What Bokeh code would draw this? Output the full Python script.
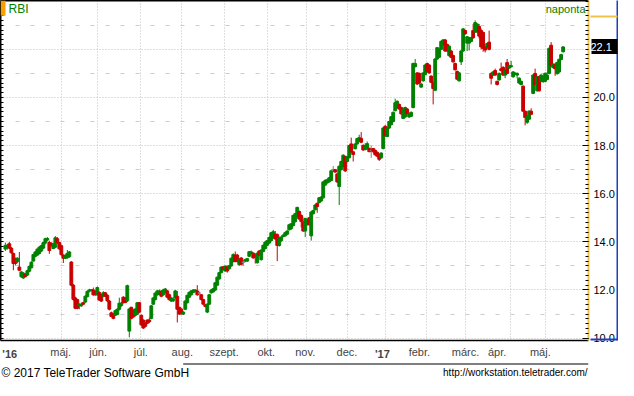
import numpy as np
from bokeh.plotting import figure
from bokeh.layouts import column
from bokeh.models import (Range1d, FixedTicker, LinearAxis, Grid, Label,
                          BoxAnnotation, ColumnDataSource, CustomJSTickFormatter,
                          PrintfTickFormatter)
from bokeh.core.properties import value
from bokeh.embed import file_html
from bokeh.resources import INLINE

# ---------------- data (daily OHLC, RBI) ----------------
opens = [
    13.70, 13.75, 13.92, 13.74, 13.52, 13.30, 13.18, 12.95, 12.55, 12.50,
    12.66, 12.62, 12.78, 12.92, 13.20, 13.40, 13.45, 13.52, 13.62, 13.74,
    13.95, 14.08, 13.97, 13.94, 13.72, 13.78, 14.13, 13.97, 13.84, 13.45,
    13.32, 13.34, 13.38, 13.16, 12.20, 11.67, 11.60, 11.34, 11.34, 11.47,
    11.50, 11.72, 11.95, 11.98, 12.00, 11.94, 11.80, 11.90, 11.80, 11.74,
    11.88, 11.78, 11.54, 11.05, 11.00, 10.95, 10.98, 11.20, 11.35, 11.70,
    11.67, 11.55, 10.29, 11.28, 11.14, 10.95, 11.00, 11.47, 10.95, 10.75,
    10.62, 10.75, 10.75, 10.82, 11.41, 11.60, 11.80, 11.82, 11.93, 11.80,
    11.90, 11.96, 11.80, 11.54, 11.55, 11.67, 11.74, 11.28, 11.21, 11.00,
    11.20, 11.47, 11.70, 11.80, 11.90, 11.96, 11.96, 11.87, 11.80, 11.60,
    11.38, 11.08, 11.41, 11.88, 11.92, 12.00, 12.20, 12.46, 12.72, 12.96,
    12.79, 12.96, 12.88, 13.00, 13.18, 13.45, 13.45, 13.05, 13.33, 13.15,
    13.20, 13.20, 13.40, 13.52, 13.53, 13.45, 13.13, 13.62, 13.26, 13.60,
    13.72, 13.86, 13.95, 14.05, 14.18, 14.32, 14.30, 13.85, 14.05, 14.22,
    14.25, 14.32, 14.50, 14.55, 14.68, 14.84, 15.04, 15.26, 15.10, 14.82,
    14.45, 14.71, 15.00, 14.25, 15.17, 15.34, 15.60, 15.63, 15.70, 15.83,
    16.36, 16.45, 16.50, 16.55, 16.99, 17.00, 16.82, 16.30, 17.00, 17.14,
    17.54, 17.34, 17.50, 18.07, 17.74, 17.87, 18.07, 18.20, 18.30, 18.01,
    17.84, 17.88, 17.88, 17.80, 17.88, 17.80, 17.72, 17.62, 17.49, 17.88,
    18.80, 18.38, 18.73, 18.87, 19.00, 19.45, 19.58, 19.71, 19.58, 19.13,
    19.19, 19.52, 19.19, 19.22, 19.58, 21.28, 21.02, 21.00, 20.43, 20.69,
    20.95, 21.41, 21.35, 20.89, 20.63, 20.30, 21.60, 21.67, 22.00, 22.20,
    22.39, 22.20, 21.74, 21.93, 21.74, 21.41, 21.08, 20.69, 21.48, 21.93,
    22.78, 22.26, 22.26, 22.33, 22.78, 22.72, 22.72, 22.95, 22.78, 22.70,
    22.10, 22.10, 22.30, 21.00, 20.93, 21.12, 20.67, 20.73, 21.19, 21.25,
    20.93, 21.45, 21.22, 21.28, 20.86, 20.96, 20.93, 20.60, 20.54, 20.47,
    19.43, 18.97, 19.10, 19.43, 20.17, 21.00, 20.28, 20.86, 20.67, 20.67,
    20.67, 20.75, 21.00, 22.17, 21.25, 21.38, 20.99, 21.06, 21.58, 21.90,
]
highs = [
    13.97, 13.92, 14.00, 13.78, 13.55, 13.35, 13.36, 13.58, 12.78, 12.74,
    12.70, 12.84, 13.02, 13.20, 13.50, 13.62, 13.72, 13.82, 13.88, 14.00,
    14.17, 14.20, 14.05, 13.98, 13.94, 14.24, 14.20, 14.00, 13.88, 13.48,
    13.48, 13.66, 13.62, 13.20, 12.25, 11.72, 11.62, 11.45, 11.48, 11.50,
    11.78, 11.98, 12.05, 12.04, 12.10, 11.98, 12.14, 11.94, 11.84, 11.95,
    11.92, 11.82, 11.58, 11.10, 11.04, 11.18, 11.24, 11.68, 11.50, 11.74,
    11.70, 12.22, 11.24, 11.30, 11.20, 11.24, 11.50, 11.50, 10.98, 10.78,
    10.66, 10.78, 10.85, 11.38, 11.70, 11.90, 12.00, 12.02, 12.00, 12.05,
    12.08, 12.00, 11.84, 11.70, 11.68, 12.00, 11.96, 11.30, 11.24, 11.12,
    11.57, 11.80, 11.93, 11.99, 12.03, 12.03, 12.20, 11.93, 11.83, 11.63,
    11.42, 11.44, 11.83, 12.02, 12.08, 12.32, 12.56, 12.75, 12.98, 13.00,
    13.02, 13.00, 13.04, 13.35, 13.52, 13.60, 13.50, 13.30, 13.36, 13.25,
    13.30, 13.33, 13.62, 13.64, 13.56, 13.50, 13.56, 13.66, 13.69, 13.89,
    14.02, 14.08, 14.22, 14.41, 14.50, 14.45, 14.35, 14.22, 14.23, 14.32,
    14.42, 14.48, 14.75, 14.78, 15.13, 15.20, 15.46, 15.30, 15.14, 14.86,
    15.00, 14.95, 15.04, 15.28, 15.34, 15.56, 15.64, 15.86, 15.90, 16.52,
    16.60, 16.62, 16.70, 16.98, 17.15, 17.03, 16.86, 17.18, 17.38, 17.64,
    17.58, 17.58, 18.03, 18.33, 17.76, 18.10, 18.32, 18.45, 18.56, 18.05,
    18.10, 18.17, 17.92, 18.01, 17.90, 17.84, 17.76, 17.66, 17.72, 18.77,
    18.86, 18.77, 19.03, 19.23, 19.42, 19.95, 19.88, 19.75, 19.62, 19.56,
    19.62, 19.56, 19.36, 19.42, 21.45, 21.60, 21.06, 21.04, 20.60, 21.05,
    21.38, 21.45, 21.38, 20.92, 20.66, 21.64, 22.10, 22.04, 22.37, 22.43,
    22.43, 22.24, 22.17, 21.97, 21.78, 21.45, 21.12, 21.06, 21.97, 22.89,
    22.82, 22.56, 22.52, 22.52, 23.05, 23.20, 23.09, 23.05, 22.86, 22.74,
    22.14, 22.28, 22.78, 21.04, 21.10, 21.20, 20.70, 21.04, 21.45, 21.30,
    21.16, 21.60, 21.36, 21.52, 21.10, 21.06, 21.04, 20.84, 20.70, 20.50,
    19.46, 19.27, 19.47, 19.55, 20.97, 21.20, 20.90, 20.90, 20.97, 20.90,
    21.04, 21.06, 22.08, 22.30, 21.42, 21.42, 21.49, 21.62, 21.82, 22.14,
]
lows = [
    13.62, 13.68, 13.70, 13.50, 12.82, 13.02, 13.12, 12.78, 12.50, 12.46,
    12.52, 12.58, 12.74, 12.90, 13.18, 13.36, 13.42, 13.48, 13.58, 13.70,
    13.90, 14.02, 13.50, 13.80, 13.70, 13.74, 13.92, 13.66, 13.42, 13.12,
    13.28, 13.30, 13.34, 12.15, 11.55, 11.20, 11.20, 11.20, 11.30, 11.38,
    11.46, 11.70, 11.90, 11.95, 11.76, 11.76, 11.76, 11.55, 11.50, 11.70,
    11.70, 11.50, 11.15, 10.88, 10.78, 10.92, 10.95, 11.15, 11.30, 11.44,
    11.45, 11.50, 10.03, 10.78, 10.85, 10.90, 10.96, 11.04, 10.50, 10.38,
    10.44, 10.58, 10.62, 10.78, 11.38, 11.56, 11.76, 11.80, 11.70, 11.76,
    11.86, 11.66, 11.56, 11.50, 11.50, 11.64, 10.65, 10.96, 10.98, 10.96,
    11.16, 11.44, 11.66, 11.77, 11.87, 11.93, 11.76, 11.80, 11.57, 11.38,
    11.28, 11.04, 11.38, 11.85, 11.90, 11.96, 12.18, 12.43, 12.70, 12.82,
    12.76, 12.72, 12.85, 12.97, 13.15, 13.15, 13.15, 13.00, 13.03, 13.00,
    13.15, 13.17, 13.37, 13.48, 13.30, 13.10, 13.10, 13.42, 13.22, 13.57,
    13.69, 13.83, 13.92, 14.02, 14.15, 14.10, 13.20, 13.80, 14.00, 14.19,
    14.22, 14.28, 14.47, 14.50, 14.64, 14.80, 15.00, 14.92, 14.60, 14.42,
    14.20, 14.68, 14.68, 14.05, 15.14, 15.30, 15.21, 15.60, 15.66, 15.80,
    16.33, 16.42, 16.46, 16.52, 16.90, 16.87, 16.45, 15.53, 16.97, 17.10,
    16.90, 17.30, 17.46, 17.70, 17.34, 17.84, 18.04, 18.17, 18.10, 17.78,
    17.80, 17.84, 17.72, 17.49, 17.70, 17.58, 17.52, 17.36, 17.46, 17.84,
    18.37, 18.35, 18.70, 18.84, 18.97, 19.42, 19.55, 19.48, 19.28, 19.10,
    19.15, 19.28, 19.15, 19.19, 19.55, 21.25, 20.52, 20.56, 20.40, 20.66,
    20.92, 21.05, 20.98, 20.60, 19.71, 20.26, 21.56, 21.64, 21.97, 22.16,
    21.90, 21.90, 21.70, 21.63, 21.44, 21.12, 20.72, 20.66, 21.35, 21.90,
    22.60, 21.93, 21.95, 22.30, 22.44, 22.68, 22.68, 22.45, 22.00, 21.90,
    21.87, 22.06, 21.96, 20.54, 20.90, 20.90, 20.50, 20.70, 21.08, 20.90,
    20.80, 20.96, 21.18, 21.24, 20.82, 20.92, 20.80, 20.56, 20.50, 19.40,
    18.84, 18.90, 19.06, 19.28, 20.14, 20.50, 20.24, 20.24, 20.63, 20.60,
    20.63, 20.72, 20.96, 21.28, 21.20, 20.90, 20.95, 21.00, 21.54, 21.87,
]
closes = [
    13.85, 13.86, 13.74, 13.55, 13.10, 13.10, 13.32, 12.82, 12.75, 12.70,
    12.56, 12.80, 12.98, 13.15, 13.47, 13.58, 13.70, 13.78, 13.84, 13.97,
    14.13, 14.14, 13.64, 13.85, 13.90, 14.17, 13.97, 13.71, 13.47, 13.32,
    13.42, 13.52, 13.58, 12.20, 11.61, 11.24, 11.24, 11.40, 11.41, 11.41,
    11.74, 11.94, 12.00, 12.01, 11.80, 11.80, 12.10, 11.58, 11.54, 11.88,
    11.74, 11.55, 11.20, 10.90, 10.82, 11.14, 11.20, 11.45, 11.45, 11.47,
    11.48, 12.18, 11.21, 10.82, 10.88, 11.21, 11.47, 11.08, 10.55, 10.42,
    10.49, 10.62, 10.68, 11.34, 11.67, 11.87, 11.96, 11.96, 11.74, 12.00,
    12.04, 11.70, 11.60, 11.67, 11.62, 11.96, 11.20, 11.00, 11.01, 11.08,
    11.54, 11.78, 11.90, 11.96, 12.00, 12.00, 11.80, 11.87, 11.60, 11.41,
    11.32, 11.41, 11.80, 12.00, 12.05, 12.30, 12.53, 12.72, 12.95, 12.86,
    12.99, 12.79, 13.01, 13.32, 13.47, 13.18, 13.18, 13.28, 13.07, 13.15,
    13.26, 13.30, 13.59, 13.58, 13.33, 13.40, 13.53, 13.45, 13.66, 13.86,
    13.99, 14.05, 14.18, 14.38, 14.42, 14.12, 13.85, 14.18, 14.20, 14.28,
    14.38, 14.45, 14.71, 14.75, 15.10, 15.17, 15.43, 14.95, 14.85, 14.45,
    14.97, 14.90, 14.71, 15.24, 15.30, 15.53, 15.47, 15.83, 15.86, 16.49,
    16.55, 16.58, 16.66, 16.95, 16.99, 16.90, 16.49, 17.14, 17.34, 17.60,
    16.95, 17.54, 18.00, 17.74, 17.63, 18.07, 18.29, 18.33, 18.14, 17.82,
    17.99, 18.08, 17.75, 17.80, 17.75, 17.62, 17.56, 17.43, 17.69, 18.73,
    18.41, 18.73, 19.00, 19.20, 19.38, 19.78, 19.84, 19.52, 19.32, 19.52,
    19.58, 19.32, 19.32, 19.38, 21.41, 21.41, 20.56, 20.60, 20.56, 21.02,
    21.35, 21.08, 21.02, 20.63, 20.37, 21.60, 22.07, 22.00, 22.33, 22.39,
    21.93, 21.93, 22.13, 21.67, 21.48, 21.15, 20.76, 21.02, 21.93, 22.85,
    22.65, 22.52, 22.48, 22.48, 22.48, 23.11, 23.05, 22.55, 22.10, 22.04,
    21.97, 22.24, 22.00, 20.80, 21.06, 20.93, 20.54, 21.00, 21.12, 20.93,
    21.12, 21.00, 21.32, 21.32, 21.06, 21.00, 21.00, 20.80, 20.67, 19.43,
    19.17, 19.23, 19.43, 19.30, 20.93, 20.54, 20.86, 20.28, 20.93, 20.86,
    21.00, 20.93, 22.04, 21.32, 21.38, 21.19, 21.45, 21.58, 21.78, 22.10,
]

# month starts (trading-day index) for vertical grid lines
month_grid = [27.9, 46.2, 67.7, 88.3, 109.7, 130.9, 150.4, 171.0, 190.4, 210.7, 230.1, 252.5, 270.0]
# month label centres (trading-day index) and texts
month_label_pos = [27.7, 46.4, 67.8, 88.5, 109.4, 130.5, 150.0, 170.9, 207.1, 230.2, 246.0, 267.6]
month_labels = ["máj.", "jún.", "júl.", "aug.", "szept.", "okt.", "nov.", "dec.",
                "febr.", "márc.", "ápr.", "máj."]
year_label_pos = [2.2, 188.6]
year_labels = ["'16", "'17"]
y_major = [10, 12, 14, 16, 18, 20, 22]
y_odd = [11, 13, 15, 17, 19, 21, 23]
y_minor = [round(v, 1) for v in np.arange(10.0, 24.01, 0.2)]

assert len(opens) == len(highs) == len(lows) == len(closes)

UP, DOWN, FLAT = "#008000", "#c80000", "#808080"
GOLD, BLUE = "#eec24a", "#1c3fc4"
FONT = "Liberation Sans"
n = len(closes)
colors = [UP if c > o else (DOWN if c < o else FLAT) for o, c in zip(opens, closes)]
src = ColumnDataSource(dict(
    x=list(range(n)), h=highs, l=lows,
    top=[max(o, c) for o, c in zip(opens, closes)],
    bot=[min(o, c) for o, c in zip(opens, closes)],
    color=colors))

W, H = 618, 362          # main chart canvas
FOOT_H = 18              # footer strip
RB, BB = 30, 19
FW, FH = W - RB, H - BB
X0, X1 = -2.43, 291.7
Y0, Y1 = 9.9, 24.03


def xd(px):
    """frame pixel (from left) -> data x"""
    return X0 + px * (X1 - X0) / FW


def yd(py):
    """frame pixel (from top) -> data y"""
    return Y1 - py * (Y1 - Y0) / FH


p = figure(width=W, height=H, x_range=Range1d(X0, X1), y_range=Range1d(Y0, Y1),
           output_backend="svg", toolbar_location=None,
           min_border_left=0, min_border_right=RB, min_border_top=0, min_border_bottom=BB,
           background_fill_color="white", border_fill_color="white", outline_line_color=None)
p.grid.visible = False
bx = p.below[0]
la = p.left[0]

# grids
p.add_layout(Grid(dimension=1, ticker=FixedTicker(ticks=y_major),
                  grid_line_color="#c0c0c0", grid_line_dash="1 2"))
p.add_layout(Grid(dimension=1, ticker=FixedTicker(ticks=y_odd),
                  grid_line_color="#cccccc", grid_line_dash="4 11"))
p.add_layout(Grid(dimension=0, ticker=FixedTicker(ticks=month_grid),
                  grid_line_color="#c0c0c0", grid_line_dash="1 2"))

# candles
p.segment(x0="x", y0="l", x1="x", y1="h", line_color="color", line_width=1, source=src)
p.vbar(x="x", width=1.4, top="top", bottom="bot", fill_color="color",
       line_color="color", line_width=1, source=src)

# left axis: ticks only
la.ticker = FixedTicker(ticks=[], minor_ticks=y_minor)
la.axis_line_color = "black"
la.axis_line_width = 2
la.major_tick_in, la.major_tick_out = 0, 0
la.minor_tick_in, la.minor_tick_out = 3, 0
la.minor_tick_line_color = "black"
la.major_label_standoff = 0

# top line
ta = LinearAxis(ticker=FixedTicker(ticks=[]), axis_line_color="black", axis_line_width=2,
                major_tick_in=0, major_tick_out=0, minor_tick_in=0, minor_tick_out=0,
                major_label_standoff=0)
p.add_layout(ta, "above")

# right price axis (the tick hidden under the last-price box is left out)
ra = LinearAxis(ticker=FixedTicker(ticks=[v for v in y_major if abs(v - closes[-1]) > 0.5],
                                   minor_ticks=y_minor),
                formatter=PrintfTickFormatter(format="%.1f"),
                axis_line_color=GOLD, axis_line_width=2,
                major_tick_in=6, major_tick_out=0, minor_tick_in=3, minor_tick_out=0,
                major_tick_line_color="black", minor_tick_line_color="black",
                major_label_standoff=5, major_label_text_font=FONT,
                major_label_text_font_size="11px", major_label_text_color="black")
p.add_layout(ra, "right")

# last-price marker: blue outer edge, black box drawn as a wide tick, white label
ra2 = LinearAxis(ticker=FixedTicker(ticks=[closes[-1]], minor_ticks=[yd(FH - 1.5)]),
                 formatter=CustomJSTickFormatter(code="return ' ' + tick.toFixed(1);"),
                 axis_line_color=BLUE, axis_line_width=2,
                 major_tick_in=26, major_tick_out=0, major_tick_line_width=15,
                 major_tick_line_color="black", major_tick_line_cap="butt",
                 minor_tick_in=27, minor_tick_out=0, minor_tick_line_width=2,
                 minor_tick_line_color=BLUE,
                 major_label_standoff=-27, major_label_text_font=FONT,
                 major_label_text_font_size="11px", major_label_text_color="white")
p.add_layout(ra2, "right")

# golden top edge of the price column
ra3 = LinearAxis(ticker=FixedTicker(ticks=[], minor_ticks=[yd(16)]),
                 axis_line_color=None,
                 major_tick_in=0, major_tick_out=0,
                 minor_tick_in=27, minor_tick_out=0, minor_tick_line_width=2,
                 minor_tick_line_color=GOLD, major_label_standoff=0)
p.add_layout(ra3, "right")

# date axis: months
bx.ticker = FixedTicker(ticks=month_label_pos)
bx.formatter = CustomJSTickFormatter(args=dict(pos=month_label_pos, lab=month_labels),
                                     code="const i = pos.indexOf(tick); return i >= 0 ? lab[i] : '';")
bx.major_tick_in, bx.major_tick_out = 0, 0
bx.minor_tick_in, bx.minor_tick_out = 0, 0
bx.axis_line_color = "black"
bx.axis_line_width = 1.5
bx.major_label_text_font = FONT
bx.major_label_text_font_size = "11px"
bx.major_label_standoff = 5

# date axis: years (bold), drawn back up into the same row
yx = LinearAxis(ticker=FixedTicker(ticks=year_label_pos),
                formatter=CustomJSTickFormatter(args=dict(pos=year_label_pos, lab=year_labels),
                                                code="const i = pos.indexOf(tick); return i >= 0 ? lab[i] : '';"),
                axis_line_color=None,
                major_tick_in=0, major_tick_out=0, minor_tick_in=0, minor_tick_out=0,
                major_label_standoff=-13, major_label_text_font=FONT,
                major_label_text_font_size="11px", major_label_text_font_style="bold")
p.add_layout(yx, "below")

# decorations inside the frame
p.add_layout(BoxAnnotation(left=xd(0), right=xd(5), top=yd(0), bottom=yd(15.5),
                           fill_color="#f5a000", fill_alpha=1, line_color=None))
p.add_layout(Label(x=xd(8), y=yd(9), text="RBI",
                   text_font=FONT, text_font_size="12px", text_color="#008000",
                   text_baseline="middle"))
p.add_layout(Label(x=xd(FW - 3), y=yd(9), text="naponta",
                   text_font=FONT, text_font_size="11px", text_color="#008000",
                   text_align="right", text_baseline="middle"))

# footer strip
f = figure(width=W, height=FOOT_H, x_range=Range1d(0, W), y_range=Range1d(0, FOOT_H),
           output_backend="svg", toolbar_location=None,
           min_border_left=0, min_border_right=0, min_border_top=0, min_border_bottom=0,
           x_axis_location=None, y_axis_location=None, outline_line_color=None,
           background_fill_color="white", border_fill_color="white")
f.grid.visible = False
f.segment(x0=[192], y0=[FOOT_H - 1.5], x1=[W], y1=[FOOT_H - 1.5], line_color="black", line_width=1.2)
f.text(x=[1], y=[FOOT_H - 10], text=["© 2017 TeleTrader Software GmbH"],
       text_font=value(FONT), text_font_size="12px", text_color="black",
       text_baseline="middle", text_align="left")
f.text(x=[W - 1], y=[FOOT_H - 10], text=["http://workstation.teletrader.com/"],
       text_font=value(FONT), text_font_size="10px", text_color="black",
       text_baseline="middle", text_align="right")

layout = column(p, f, spacing=0)
open("out.html", "w").write(file_html(layout, INLINE))
